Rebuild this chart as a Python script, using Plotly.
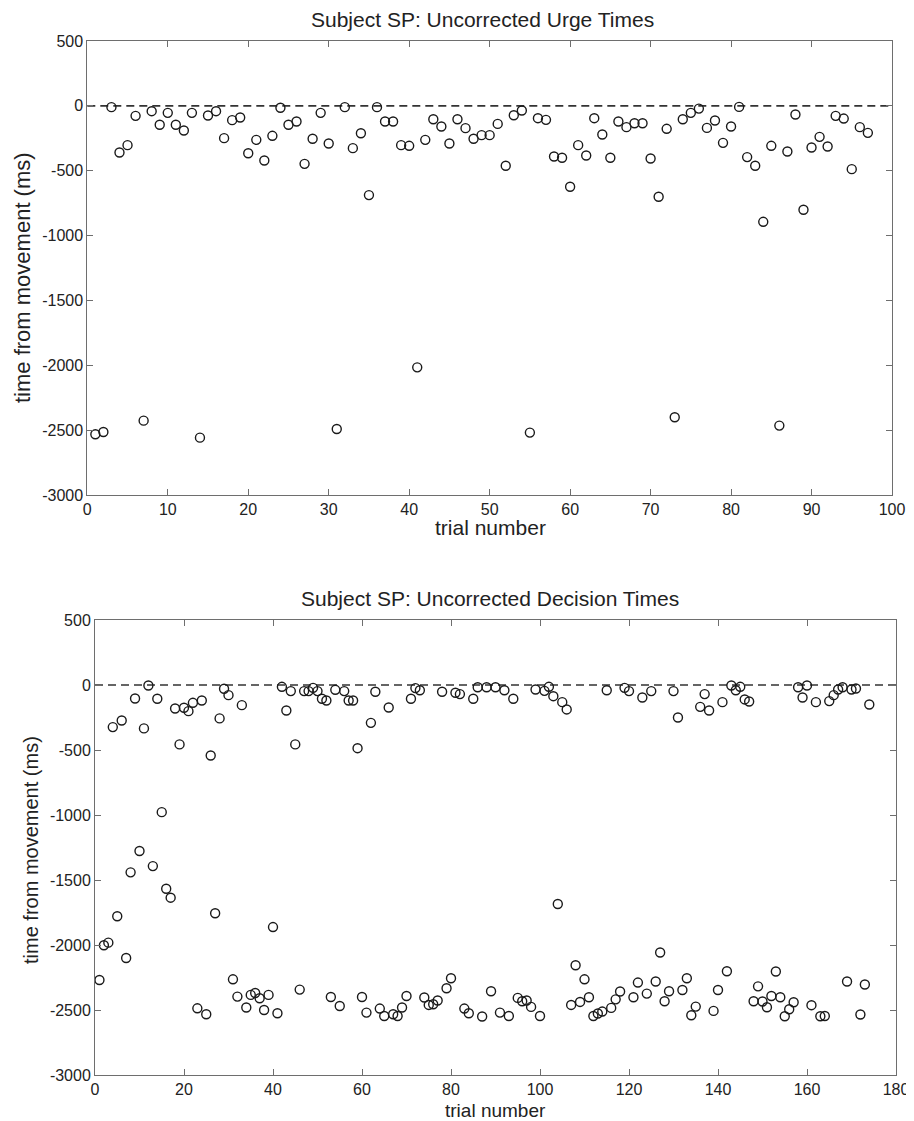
import plotly.graph_objects as go

# ---------------- data ----------------
urge_trials = list(range(1, 98))
urge_times = [
    -2532, -2514, -10, -360, -303, -77, -2427, -41, -146, -54,
    -146, -190, -54, -2558, -74, -41, -249, -110, -90, -365,
    -262, -421, -231, -15, -146, -121, -447, -254, -54, -290,
    -2491, -10, -326, -211, -688, -10, -121, -121, -303, -308,
    -2016, -262, -103, -159, -290, -103, -172, -254, -226, -226,
    -139, -462, -72, -36, -2519, -95, -108, -390, -400, -624,
    -303, -383, -95, -221, -400, -121, -164, -134, -134, -406,
    -701, -177, -2401, -103, -54, -21, -170, -113, -285, -159,
    -8, -395, -462, -894, -308, -2465, -352, -67, -801, -321,
    -239, -313, -77, -98, -488, -164, -208,
]

decision_trials = list(range(1, 175))
decision_times = [
    -2269, -2002, -1982, -324, -1779, -273, -2100, -1441, -104, -1277,
    -334, -4, -1393, -106, -978, -1567, -1636, -181, -457, -175,
    -201, -137, -2487, -119, -2533, -542, -1756, -257, -29, -78,
    -2264, -2397, -155, -2481, -2384, -2369, -2410, -2500, -2384, -1862,
    -2525, -14, -196, -47, -457, -2343, -47, -47, -22, -47,
    -106, -119, -2400, -37, -2469, -47, -119, -119, -486, -2400,
    -2520, -291, -52, -2489, -2546, -173, -2533, -2546, -2481, -2392,
    -106, -24, -40, -2404, -2461, -2456, -2427, -52, -2333, -2256,
    -60, -70, -2489, -2525, -106, -17, -2550, -17, -2356, -17,
    -2520, -40, -2546, -106, -2407, -2433, -2427, -2476, -35, -2546,
    -45, -14, -86, -1685, -132, -188, -2461, -2156, -2438, -2264,
    -2402, -2546, -2527, -2512, -40, -2484, -2418, -2358, -22, -47,
    -2402, -2289, -96, -2374, -47, -2281, -2058, -2433, -2356, -47,
    -250, -2346, -2256, -2540, -2474, -168, -70, -196, -2507, -2346,
    -132, -2202, -4, -40, -14, -111, -127, -2433, -2318, -2435,
    -2479, -2392, -2204, -2402, -2548, -2494, -2440, -17, -96, -4,
    -2463, -132, -2548, -2546, -124, -78, -35, -17, -2281, -35,
    -27, -2535, -2304, -150,
]

y_tick_vals = [500, 0, -500, -1000, -1500, -2000, -2500, -3000]
y_tick_text = ["500", "0", "-500", "-1000", "-1500", "-2000", "-2500", "-3000"]
x1_tick_vals = [0, 10, 20, 30, 40, 50, 60, 70, 80, 90, 100]
x2_tick_vals = [0, 20, 40, 60, 80, 100, 120, 140, 160, 180]

title_top = "Subject SP: Uncorrected Urge Times"
title_bottom = "Subject SP: Uncorrected Decision Times"
x_label = "trial number"
y_label = "time from movement (ms)"

# ---------------- layout helpers ----------------
OFF = 8  # default page body margin
W, H = 914 - OFF, 1121 - OFF
def px_x(p):
    return (p - OFF) / W
def px_y(p):
    return 1 - (p - OFF) / H

FONT = "Liberation Sans, Arial, sans-serif"
AX_COL = "#6e6e6e"
TXT_COL = "#222222"

fig = go.Figure()

marker = dict(symbol="circle-open", size=9, color="#1a1a1a",
              line=dict(width=1.4, color="#1a1a1a"))

fig.add_trace(go.Scatter(x=urge_trials, y=urge_times, mode="markers",
                         marker=marker, xaxis="x", yaxis="y", showlegend=False))
fig.add_trace(go.Scatter(x=decision_trials, y=decision_times, mode="markers",
                         marker=marker, xaxis="x2", yaxis="y2", showlegend=False))

common_axis = dict(showline=True, linecolor=AX_COL, linewidth=1, mirror="ticks",
                   ticks="inside", ticklen=6, tickcolor=AX_COL, tickwidth=1,
                   showgrid=False, zeroline=False, automargin=False,
                   tickfont=dict(family=FONT, size=16, color=TXT_COL))

fig.update_layout(
    width=W, height=H,
    margin=dict(l=0, r=0, t=0, b=0, pad=0, autoexpand=False),
    paper_bgcolor="white", plot_bgcolor="white",
    xaxis=dict(domain=[px_x(87.3), px_x(892)], range=[0, 100],
               tickvals=x1_tick_vals, anchor="y", **common_axis),
    yaxis=dict(domain=[px_y(495), px_y(41)], range=[-3000, 500],
               tickvals=y_tick_vals, ticktext=y_tick_text, anchor="x", **common_axis),
    xaxis2=dict(domain=[px_x(95), px_x(896)], range=[0, 180],
                tickvals=x2_tick_vals, anchor="y2", **common_axis),
    yaxis2=dict(domain=[px_y(1075), px_y(620)], range=[-3000, 500],
                tickvals=y_tick_vals, ticktext=y_tick_text, anchor="x2", **common_axis),
    shapes=[
        dict(type="line", xref="x domain", yref="y", x0=0, x1=1, y0=0, y1=0,
             line=dict(color="#333333", width=1.6, dash="8px,5px"), layer="below"),
        dict(type="line", xref="x2 domain", yref="y2", x0=0, x1=1, y0=0, y1=0,
             line=dict(color="#333333", width=1.6, dash="8px,5px"), layer="below"),
    ],
)

ann = [
    dict(text=title_top, x=px_x(482), y=px_y(20), size=21),
    dict(text=title_bottom, x=px_x(490), y=px_y(598), size=21),
    dict(text=x_label, x=px_x(490), y=px_y(528), size=21),
    dict(text=x_label, x=px_x(495), y=px_y(1110), size=19),
]
annotations = []
for a in ann:
    annotations.append(dict(text=a["text"], x=a["x"], y=a["y"], xref="paper", yref="paper",
                            xanchor="center", yanchor="middle", showarrow=False,
                            font=dict(family=FONT, size=a["size"], color=TXT_COL)))
annotations.append(dict(text=y_label, x=px_x(22), y=px_y(278), xref="paper", yref="paper",
                        xanchor="center", yanchor="middle", showarrow=False, textangle=-90,
                        font=dict(family=FONT, size=22, color=TXT_COL)))
annotations.append(dict(text=y_label, x=px_x(31), y=px_y(850), xref="paper", yref="paper",
                        xanchor="center", yanchor="middle", showarrow=False, textangle=-90,
                        font=dict(family=FONT, size=20, color=TXT_COL)))
fig.update_layout(annotations=annotations)

fig.write_html("out.html")
